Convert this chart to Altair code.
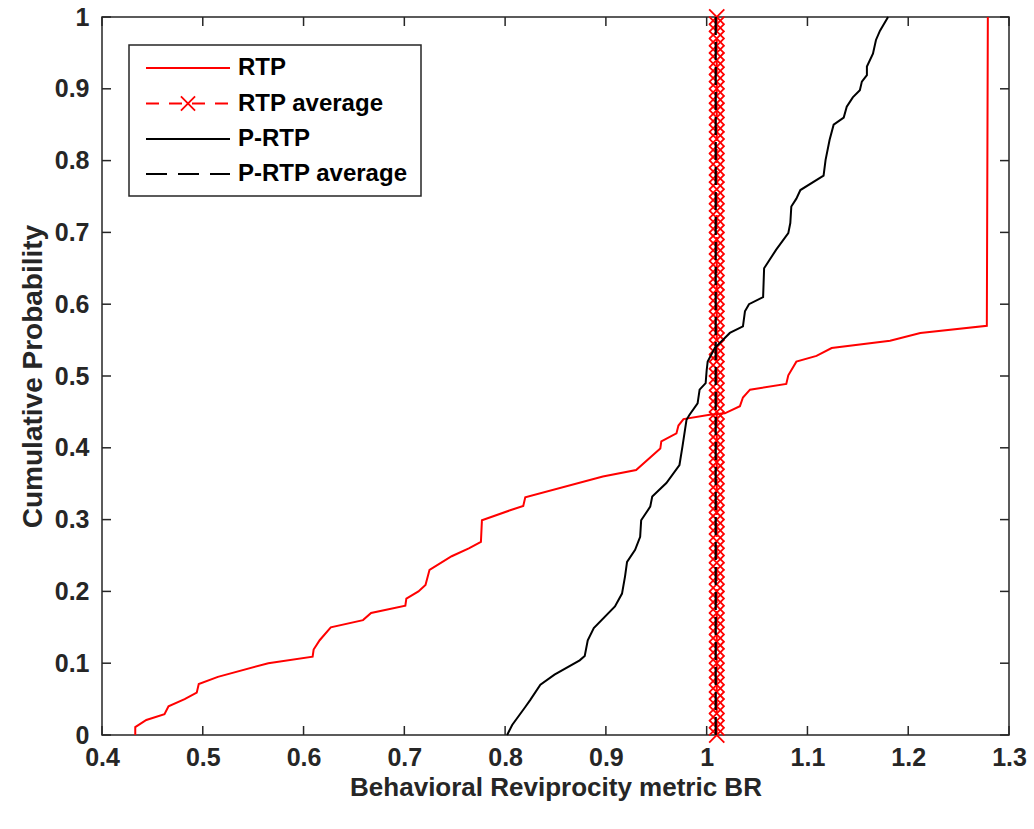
import altair as alt
import pandas as pd

# ---------------- data ----------------
RTP_X = [0.433, 0.433, 0.444, 0.462, 0.466, 0.482, 0.494, 0.496, 0.515, 0.565,
         0.609, 0.610, 0.616, 0.627, 0.659, 0.667, 0.701, 0.702, 0.714, 0.721,
         0.725, 0.747, 0.764, 0.776, 0.777, 0.805, 0.818, 0.820, 0.897, 0.930,
         0.954, 0.955, 0.970, 0.972, 0.977, 1.003, 1.018, 1.033, 1.036, 1.043,
         1.079, 1.081, 1.089, 1.109, 1.124, 1.182, 1.212, 1.278, 1.279]
RTP_Y = [0.000, 0.011, 0.021, 0.029, 0.040, 0.050, 0.059, 0.071, 0.081, 0.100,
         0.109, 0.119, 0.132, 0.150, 0.160, 0.170, 0.180, 0.190, 0.200, 0.209,
         0.230, 0.249, 0.260, 0.269, 0.299, 0.313, 0.319, 0.331, 0.360, 0.369,
         0.399, 0.409, 0.420, 0.431, 0.440, 0.446, 0.448, 0.458, 0.470, 0.481,
         0.489, 0.501, 0.520, 0.528, 0.539, 0.549, 0.560, 0.570, 1.000]

PRTP_X = [0.802, 0.807, 0.820, 0.825, 0.835, 0.849, 0.874, 0.879, 0.882, 0.888,
          0.909, 0.916, 0.919, 0.921, 0.929, 0.934, 0.935, 0.944, 0.946, 0.960,
          0.973, 0.976, 0.980, 0.983, 0.991, 0.993, 0.999, 1.000, 1.001, 1.008,
          1.023, 1.036, 1.038, 1.042, 1.056, 1.057, 1.069, 1.081, 1.083, 1.084,
          1.089, 1.093, 1.116, 1.118, 1.122, 1.126, 1.136, 1.139, 1.145, 1.152,
          1.154, 1.159, 1.159, 1.165, 1.168, 1.172, 1.180]
PRTP_Y = [0.000, 0.014, 0.039, 0.049, 0.070, 0.084, 0.104, 0.110, 0.132, 0.149,
          0.179, 0.197, 0.221, 0.241, 0.258, 0.276, 0.299, 0.318, 0.332, 0.351,
          0.376, 0.402, 0.439, 0.446, 0.462, 0.481, 0.490, 0.508, 0.520, 0.539,
          0.560, 0.569, 0.590, 0.600, 0.610, 0.650, 0.676, 0.699, 0.713, 0.736,
          0.747, 0.759, 0.779, 0.801, 0.829, 0.850, 0.860, 0.875, 0.888, 0.898,
          0.910, 0.919, 0.931, 0.949, 0.968, 0.981, 1.000]

RTP_AVG = 1.010
PRTP_AVG = 1.009
AVG_LEVELS = [k / 100 for k in range(101)]   # marker levels on the average line

X_TICKS = [0.4, 0.5, 0.6, 0.7, 0.8, 0.9, 1.0, 1.1, 1.2, 1.3]
Y_TICKS = [0, 0.1, 0.2, 0.3, 0.4, 0.5, 0.6, 0.7, 0.8, 0.9, 1.0]

LEGEND_LABELS = ["RTP", "RTP average", "P-RTP", "P-RTP average"]

X_TITLE = "Behavioral Reviprocity metric BR"
Y_TITLE = "Cumulative Probability"

# ---------------- styling ----------------
W, H = 907, 718
FONT = "Liberation Sans"
AX = "#262626"
RED = "#ff0000"
BLACK = "#000000"
CROSS = "M-1,-1L1,1M1,-1L-1,1"
TICK_LEN = 9

xs = alt.Scale(domain=[0.4, 1.3], nice=False, zero=False)
ys = alt.Scale(domain=[0, 1], nice=False, zero=False)

x_axis = alt.Axis(values=X_TICKS, format="~g", title=X_TITLE, grid=False,
                  domain=False, ticks=False, labelFont=FONT, labelFontSize=25,
                  labelFontWeight="bold", labelColor=AX, labelPadding=10,
                  labelFlush=False, titleFont=FONT, titleFontSize=26,
                  titleFontWeight="bold", titleColor=AX, titlePadding=4)
y_axis = alt.Axis(values=Y_TICKS, format="~g", title=Y_TITLE, grid=False,
                  domain=False, ticks=False, labelFont=FONT, labelFontSize=25,
                  labelFontWeight="bold", labelColor=AX, labelPadding=13,
                  labelFlush=False, titleFont=FONT, titleFontSize=28,
                  titleFontWeight="bold", titleColor=AX, titlePadding=7)


def X(field="x"):
    return alt.X(f"{field}:Q", scale=xs, axis=x_axis)


def Y(field="y"):
    return alt.Y(f"{field}:Q", scale=ys, axis=y_axis)


rtp = pd.DataFrame({"x": RTP_X, "y": RTP_Y, "i": list(range(len(RTP_X)))})
prtp = pd.DataFrame({"x": PRTP_X, "y": PRTP_Y, "i": list(range(len(PRTP_X)))})
rtp_avg_rule = pd.DataFrame({"x": [RTP_AVG], "y": [0.0], "y2": [1.0]})
rtp_avg_pts = pd.DataFrame({"x": [RTP_AVG] * len(AVG_LEVELS), "y": AVG_LEVELS})
prtp_avg_rule = pd.DataFrame({"x": [PRTP_AVG], "y": [0.0], "y2": [1.0]})
xt = pd.DataFrame({"x": X_TICKS})
yt = pd.DataFrame({"y": Y_TICKS})
one = pd.DataFrame({"k": [0]})

layers = []

layers.append(alt.Chart(rtp).mark_line(color=RED, strokeWidth=2)
              .encode(x=X(), y=Y(), order="i:Q"))
layers.append(alt.Chart(rtp_avg_rule).mark_rule(color=RED, strokeWidth=2,
                                                 strokeDash=[14, 8])
              .encode(x=X(), y=Y(), y2="y2:Q"))
layers.append(alt.Chart(rtp_avg_pts).mark_point(shape=CROSS, size=230, filled=False,
                                                color=RED, strokeWidth=1.8, opacity=1)
              .encode(x=X(), y=Y()))
layers.append(alt.Chart(prtp).mark_line(color=BLACK, strokeWidth=2)
              .encode(x=X(), y=Y(), order="i:Q"))
layers.append(alt.Chart(prtp_avg_rule).mark_rule(color=BLACK, strokeWidth=2.2,
                                                  strokeDash=[18, 7])
              .encode(x=X(), y=Y(), y2="y2:Q"))

# inward ticks on all four sides
layers.append(alt.Chart(xt).mark_rule(color=AX, strokeWidth=1.5)
              .encode(x=X(), y=alt.value(H), y2=alt.value(H - TICK_LEN)))
layers.append(alt.Chart(xt).mark_rule(color=AX, strokeWidth=1.5)
              .encode(x=X(), y=alt.value(0), y2=alt.value(TICK_LEN)))
layers.append(alt.Chart(yt).mark_rule(color=AX, strokeWidth=1.5)
              .encode(y=Y(), x=alt.value(0), x2=alt.value(TICK_LEN)))
layers.append(alt.Chart(yt).mark_rule(color=AX, strokeWidth=1.5)
              .encode(y=Y(), x=alt.value(W), x2=alt.value(W - TICK_LEN)))

# legend box
layers.append(alt.Chart(one).mark_rect(fill="white", stroke=AX, strokeWidth=1.5)
              .encode(x=alt.value(27), x2=alt.value(319), y=alt.value(28), y2=alt.value(179)))
row_y = [51, 86.5, 122, 157]
styles = [(RED, None), (RED, [13, 10]), (BLACK, None), (BLACK, [21, 11])]
for lab, ry, (col, dash) in zip(LEGEND_LABELS, row_y, styles):
    kw = dict(color=col, strokeWidth=2)
    if dash:
        kw["strokeDash"] = dash
    layers.append(alt.Chart(one).mark_rule(**kw)
                  .encode(x=alt.value(44), x2=alt.value(128), y=alt.value(ry)))
    layers.append(alt.Chart(one).mark_text(align="left", baseline="middle", font=FONT,
                                           fontSize=24, fontWeight="bold", color=BLACK,
                                           text=lab)
                  .encode(x=alt.value(136), y=alt.value(ry)))
layers.append(alt.Chart(one).mark_point(shape=CROSS, size=200, filled=False, color=RED,
                                        strokeWidth=1.8, opacity=1)
              .encode(x=alt.value(86), y=alt.value(row_y[1])))

chart = (alt.layer(*layers)
         .properties(width=W, height=H, autosize=alt.AutoSizeParams(type="none"),
                     padding={"left": 102, "top": 17, "right": 25, "bottom": 94},
                     background="white")
         .configure_view(stroke=AX, strokeWidth=1.5))

chart.save("out.html", embed_options={"renderer": "svg", "actions": False})
